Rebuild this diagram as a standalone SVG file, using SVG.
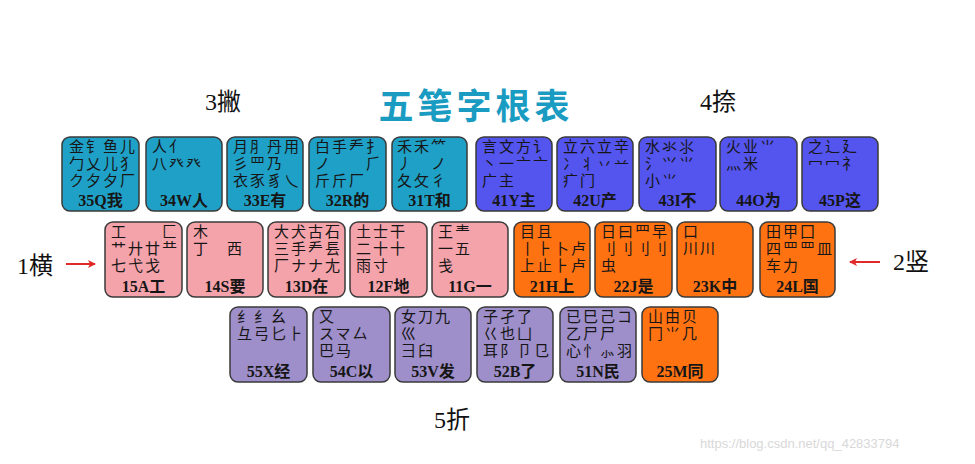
<svg xmlns="http://www.w3.org/2000/svg" width="975" height="464" viewBox="0 0 975 464">
<style>
.k{stroke:#3a3a3a;stroke-width:1.5}
.c1{fill:#1fa0c6}.c2{fill:#5454ee}.c3{fill:#f5a3ab}.c4{fill:#ff7212}.c5{fill:#9e8ec9}
.r{font-family:"Liberation Sans","Noto Sans CJK SC",sans-serif;font-size:15px;fill:#161616;letter-spacing:2px}
.l{font-family:"Liberation Serif","Noto Sans CJK SC",serif;font-size:16px;font-weight:bold;fill:#161616;text-anchor:middle}
.s{font-family:"Liberation Serif","Noto Sans CJK SC",serif;font-size:24px;fill:#111}
.t{font-family:"Noto Sans CJK SC",sans-serif;font-size:35px;font-weight:bold;fill:#1a9bc2;letter-spacing:4px;text-anchor:middle}
.w{font-family:"Liberation Sans",sans-serif;font-size:13px;fill:#d8d8d8}
</style>
<defs>
<marker id="ah" markerWidth="8" markerHeight="8" refX="7" refY="4" orient="auto" markerUnits="userSpaceOnUse">
<path d="M0,0 L8,4 L0,8 L2,4 Z" fill="#e02a2a"/>
</marker>
</defs>
<rect width="975" height="464" fill="#fff"/>
<text class="t" x="476" y="119">五笔字根表</text>
<text class="s" x="205" y="110">3撇</text>
<text class="s" x="700" y="110">4捺</text>
<text class="s" x="17" y="274">1横</text>
<text class="s" x="893" y="270">2竖</text>
<text class="s" x="434" y="428">5折</text>

<g id="connectors">
<line x1="66" y1="264" x2="95" y2="264" stroke="#e02a2a" stroke-width="2" marker-end="url(#ah)"/>
<line x1="880" y1="262" x2="850" y2="262" stroke="#e02a2a" stroke-width="2" marker-end="url(#ah)"/>
</g>

<!-- Row 1 -->
<g id="key-35Q"><rect class="k c1" x="62" y="137" width="77" height="74" rx="8"/>
<text class="r"><tspan x="69" y="152">金钅鱼儿</tspan><tspan x="69" y="169">勹乂儿犭</tspan><tspan x="69" y="186">ク夕夕厂</tspan></text><text class="l" x="100.5" y="206">35Q我</text></g>
<g id="key-34W"><rect class="k c1" x="146" y="137" width="76" height="74" rx="8"/>
<text class="r"><tspan x="152" y="152">人亻</tspan><tspan x="152" y="169">八癶癶</tspan></text><text class="l" x="184" y="206">34W人</text></g>
<g id="key-33E"><rect class="k c1" x="227" y="137" width="76" height="74" rx="8"/>
<text class="r"><tspan x="233" y="152">月⺼丹用</tspan><tspan x="233" y="169">彡罒乃</tspan><tspan x="233" y="186">衣豕豸乀</tspan></text><text class="l" x="265" y="206">33E有</text></g>
<g id="key-32R"><rect class="k c1" x="309" y="137" width="77" height="74" rx="8"/>
<text class="r"><tspan x="315" y="152">白手龵扌</tspan><tspan x="315" y="169">ノ　　⺁</tspan><tspan x="315" y="186">斤斤厂</tspan></text><text class="l" x="347.5" y="206">32R的</text></g>
<g id="key-31T"><rect class="k c1" x="392" y="137" width="75" height="74" rx="8"/>
<text class="r"><tspan x="397" y="152">禾禾⺮</tspan><tspan x="397" y="169">丿　ノ</tspan><tspan x="397" y="186">夂攵彳</tspan></text><text class="l" x="429.5" y="206">31T和</text></g>
<g id="key-41Y"><rect class="k c2" x="476" y="137" width="76" height="74" rx="8"/>
<text class="r"><tspan x="482" y="152">言文方讠</tspan><tspan x="482" y="169">丶一亠亠</tspan><tspan x="482" y="186">广主</tspan></text><text class="l" x="514" y="206">41Y主</text></g>
<g id="key-42U"><rect class="k c2" x="557" y="137" width="76" height="74" rx="8"/>
<text class="r"><tspan x="563" y="152">立六立辛</tspan><tspan x="563" y="169">冫丬丷䒑</tspan><tspan x="563" y="186">疒门</tspan></text><text class="l" x="595" y="206">42U产</text></g>
<g id="key-43I"><rect class="k c2" x="639" y="137" width="77" height="74" rx="8"/>
<text class="r"><tspan x="645" y="152">水氺⺢</tspan><tspan x="645" y="169">氵⺍⺌</tspan><tspan x="645" y="186">小⺌</tspan></text><text class="l" x="677.5" y="206">43I不</text></g>
<g id="key-44O"><rect class="k c2" x="720" y="137" width="77" height="74" rx="8"/>
<text class="r"><tspan x="726" y="152">火业⺌</tspan><tspan x="726" y="169">灬米</tspan></text><text class="l" x="758.5" y="206">44O为</text></g>
<g id="key-45P"><rect class="k c2" x="802" y="137" width="76" height="74" rx="8"/>
<text class="r"><tspan x="808" y="152">之辶廴</tspan><tspan x="808" y="169">冖冖礻</tspan></text><text class="l" x="840" y="206">45P这</text></g>

<!-- Row 2 -->
<g id="key-15A"><rect class="k c3" x="105" y="222" width="77" height="75" rx="8"/>
<text class="r"><tspan x="111" y="237">工　　匚</tspan><tspan x="111" y="254">艹廾廿龷</tspan><tspan x="111" y="271">七弋戈</tspan></text><text class="l" x="143.5" y="292">15A工</text></g>
<g id="key-14S"><rect class="k c3" x="187" y="222" width="76" height="75" rx="8"/>
<text class="r"><tspan x="193" y="237">木</tspan><tspan x="193" y="254">丁　西</tspan></text><text class="l" x="225" y="292">14S要</text></g>
<g id="key-13D"><rect class="k c3" x="268" y="222" width="77" height="75" rx="8"/>
<text class="r"><tspan x="274" y="237">大犬古石</tspan><tspan x="274" y="254">三手龵镸</tspan><tspan x="274" y="271">厂ナナ尢</tspan></text><text class="l" x="306.5" y="292">13D在</text></g>
<g id="key-12F"><rect class="k c3" x="350" y="222" width="77" height="75" rx="8"/>
<text class="r"><tspan x="356" y="237">土士干</tspan><tspan x="356" y="254">二十十</tspan><tspan x="356" y="271">雨寸</tspan></text><text class="l" x="388.5" y="292">12F地</text></g>
<g id="key-11G"><rect class="k c3" x="432" y="222" width="76" height="75" rx="8"/>
<text class="r"><tspan x="438" y="237">王龶</tspan><tspan x="438" y="254">一五</tspan><tspan x="438" y="271">戋</tspan></text><text class="l" x="470" y="292">11G一</text></g>
<g id="key-21H"><rect class="k c4" x="514" y="222" width="76" height="75" rx="8"/>
<text class="r"><tspan x="520" y="237">目且</tspan><tspan x="520" y="254">丨⺊卜卢</tspan><tspan x="520" y="271">上止⺊卢</tspan></text><text class="l" x="552" y="292">21H上</text></g>
<g id="key-22J"><rect class="k c4" x="595" y="222" width="77" height="75" rx="8"/>
<text class="r"><tspan x="601" y="237">日曰⺲早</tspan><tspan x="601" y="254">刂刂刂刂</tspan><tspan x="601" y="271">虫</tspan></text><text class="l" x="633.5" y="292">22J是</text></g>
<g id="key-23K"><rect class="k c4" x="677" y="222" width="76" height="75" rx="8"/>
<text class="r"><tspan x="683" y="237">口</tspan><tspan x="683" y="254">川川</tspan></text><text class="l" x="715" y="292">23K中</text></g>
<g id="key-24L"><rect class="k c4" x="760" y="222" width="75" height="75" rx="8"/>
<text class="r"><tspan x="766" y="237">田甲囗</tspan><tspan x="766" y="254">四罒罒皿</tspan><tspan x="766" y="271">车力</tspan></text><text class="l" x="797.5" y="292">24L国</text></g>

<!-- Row 3 -->
<g id="key-55X"><rect class="k c5" x="230" y="307" width="77" height="75" rx="8"/>
<text class="r"><tspan x="237" y="322">纟纟幺</tspan><tspan x="237" y="339">彑弓匕⺊</tspan></text><text class="l" x="268.5" y="377">55X经</text></g>
<g id="key-54C"><rect class="k c5" x="313" y="307" width="77" height="75" rx="8"/>
<text class="r"><tspan x="319" y="322">又</tspan><tspan x="319" y="339">スマ厶</tspan><tspan x="319" y="356">巴马</tspan></text><text class="l" x="351.5" y="377">54C以</text></g>
<g id="key-53V"><rect class="k c5" x="395" y="307" width="76" height="75" rx="8"/>
<text class="r"><tspan x="401" y="322">女刀九</tspan><tspan x="401" y="339">巛</tspan><tspan x="401" y="356">彐臼</tspan></text><text class="l" x="433" y="377">53V发</text></g>
<g id="key-52B"><rect class="k c5" x="477" y="307" width="76" height="75" rx="8"/>
<text class="r"><tspan x="483" y="322">子孑了</tspan><tspan x="483" y="339">巜也凵</tspan><tspan x="483" y="356">耳阝卩㔾</tspan></text><text class="l" x="515" y="377">52B了</text></g>
<g id="key-51N"><rect class="k c5" x="560" y="307" width="76" height="75" rx="8"/>
<text class="r"><tspan x="566" y="322">已巳己コ</tspan><tspan x="566" y="339">乙尸尸</tspan><tspan x="566" y="356">心忄⺗羽</tspan></text><text class="l" x="598" y="377">51N民</text></g>
<g id="key-25M"><rect class="k c4" x="642" y="307" width="76" height="75" rx="8"/>
<text class="r"><tspan x="648" y="322">山由贝</tspan><tspan x="648" y="339">冂⺌几</tspan></text><text class="l" x="680" y="377">25M同</text></g>

<text class="w" x="700" y="448">https://blog.csdn.net/qq_42833794</text>
</svg>
